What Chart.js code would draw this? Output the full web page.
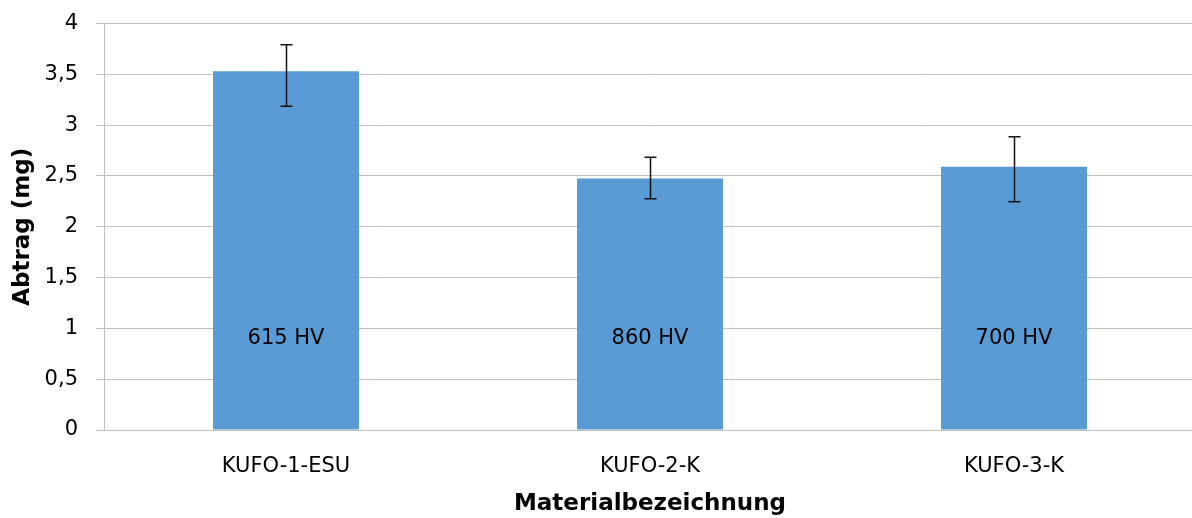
<!DOCTYPE html>
<html>
<head>
<meta charset="utf-8">
<script src="https://cdn.jsdelivr.net/npm/chart.js@4.4.1/dist/chart.umd.min.js"></script>
<style>
  html, body { margin: 0; padding: 0; background: #fff; overflow: hidden; }
  #wrap { position: relative; width: 1200px; height: 518px; }
</style>
</head>
<body>
<div id="wrap"><canvas id="c"></canvas></div>
<script>
const categories = ['KUFO-1-ESU', 'KUFO-2-K', 'KUFO-3-K'];
const abtrag = [3.53, 2.475, 2.59];
const errPlus = [0.26, 0.21, 0.295];
const errMinus = [0.345, 0.2, 0.345];
const hardness = ['615 HV', '860 HV', '700 HV'];
const yTicks = [0, 0.5, 1, 1.5, 2, 2.5, 3, 3.5, 4];

const FONT = "'DejaVu Sans', sans-serif";

const extras = {
  id: 'extras',
  afterDatasetsDraw(chart) {
    const ctx = chart.ctx;
    const meta = chart.getDatasetMeta(0);
    const y = chart.scales.y;
    ctx.save();
    // hardness labels inside bars
    ctx.fillStyle = '#000';
    ctx.font = '21px ' + FONT;
    ctx.textAlign = 'center';
    ctx.textBaseline = 'middle';
    meta.data.forEach((bar, i) => {
      ctx.fillText(hardness[i], bar.x, y.getPixelForValue(0.9));
    });
    // error bars
    ctx.strokeStyle = '#111';
    ctx.lineWidth = 1.5;
    meta.data.forEach((bar, i) => {
      const x = Math.round(bar.x) + 0.5;
      const yTop = y.getPixelForValue(abtrag[i] + errPlus[i]);
      const yBot = y.getPixelForValue(abtrag[i] - errMinus[i]);
      ctx.beginPath();
      ctx.moveTo(x, yTop); ctx.lineTo(x, yBot);
      ctx.moveTo(x - 6, yTop); ctx.lineTo(x + 6, yTop);
      ctx.moveTo(x - 6, yBot); ctx.lineTo(x + 6, yBot);
      ctx.stroke();
    });
    ctx.restore();
  }
};

new Chart(document.getElementById('c'), {
  type: 'bar',
  data: {
    labels: categories,
    datasets: [{
      data: abtrag,
      backgroundColor: '#5B9BD5',
      borderWidth: 0,
      categoryPercentage: 1,
      barPercentage: 0.401
    }]
  },
  options: {
    responsive: true,
    maintainAspectRatio: false,
    animation: false,
    devicePixelRatio: 1,
    layout: { padding: { top: 23.5, right: 4, bottom: 0, left: 0 } },
    plugins: { legend: { display: false }, tooltip: { enabled: false } },
    scales: {
      x: {
        grid: { display: false, drawTicks: false },
        border: { display: true, color: '#BFBFBF', width: 1 },
        ticks: { color: '#000', font: { family: FONT, size: 21 }, padding: 24, maxRotation: 0 },
        title: { display: true, text: 'Materialbezeichnung', color: '#000',
                 font: { family: FONT, size: 23, weight: 'bold' }, padding: { top: 0, bottom: 0 } },
        afterFit(s) { s.height = 88; s.paddingLeft = 0; s.paddingRight = 0; }
      },
      y: {
        min: 0, max: 4,
        afterBuildTicks(s) { s.ticks = yTicks.map(v => ({ value: v })); },
        grid: { color: '#BFBFBF', lineWidth: 1, tickLength: 8, drawTicks: true },
        border: { display: true, color: '#BFBFBF', width: 1 },
        ticks: {
          color: '#000', font: { family: FONT, size: 21 }, padding: 18,
          callback: v => String(v).replace('.', ',')
        },
        title: { display: true, text: 'Abtrag (mg)', color: '#000',
                 font: { family: FONT, size: 23, weight: 'bold' }, padding: { top: 9, bottom: 0 } },
        afterFit(s) { s.width = 104; s.paddingTop = 0; s.paddingBottom = 0; }
      }
    }
  },
  plugins: [extras]
});
</script>
</body>
</html>
